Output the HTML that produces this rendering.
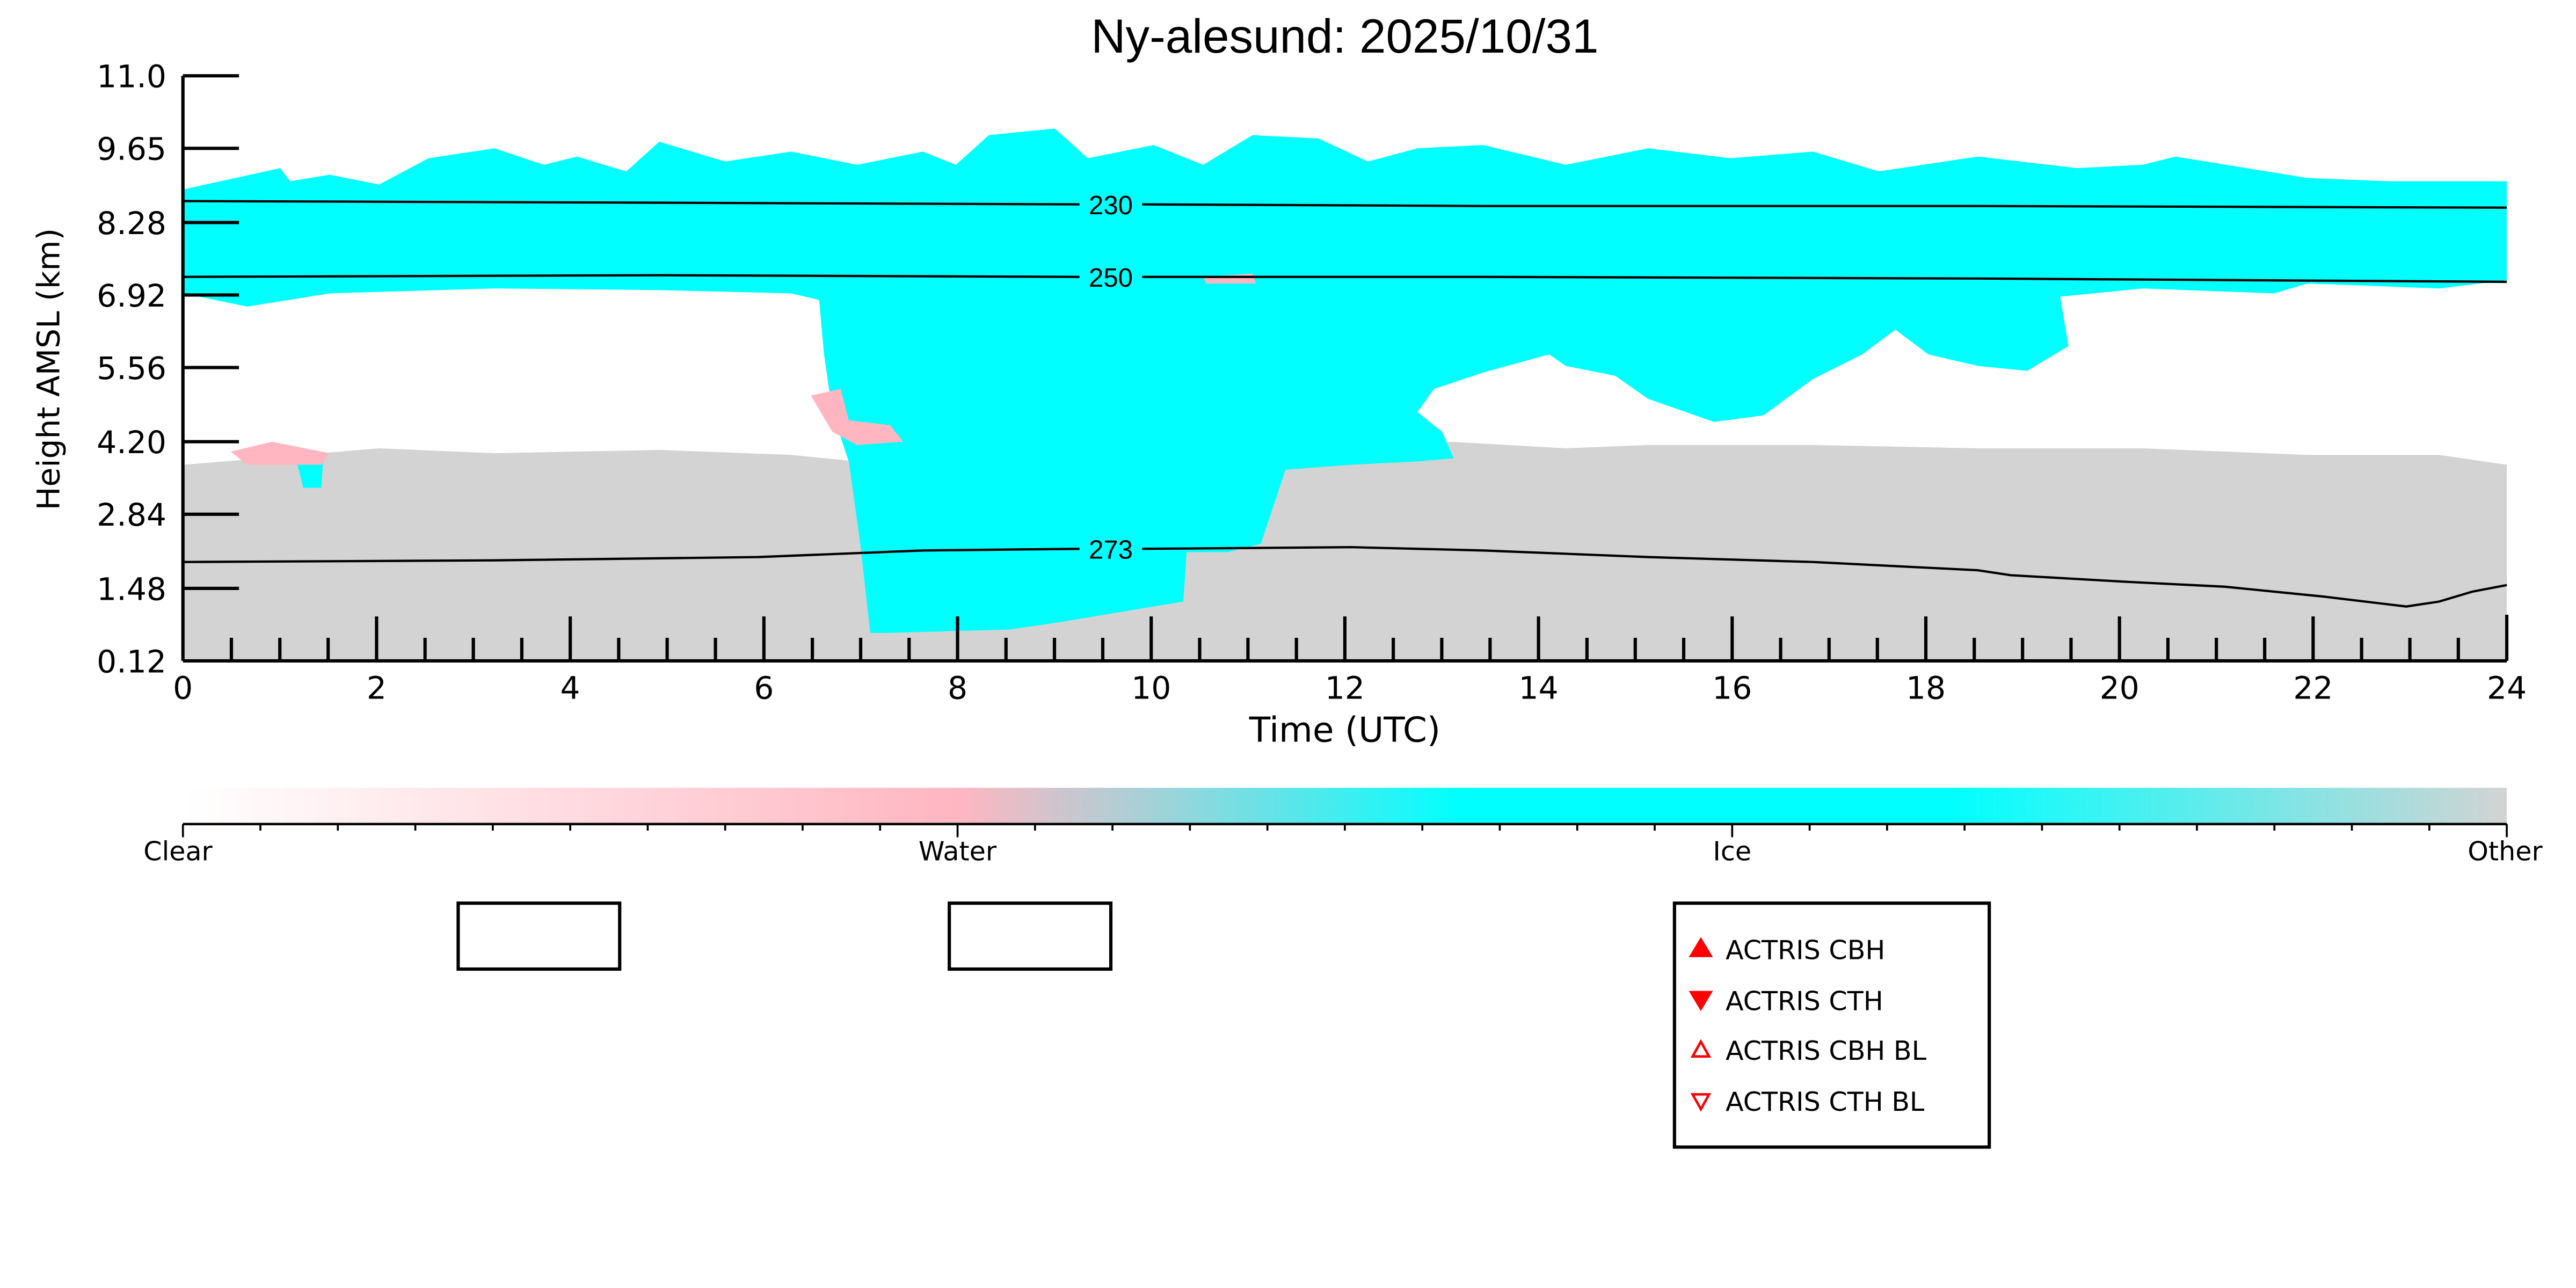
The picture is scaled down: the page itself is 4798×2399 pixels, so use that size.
<!DOCTYPE html>
<html><head><meta charset="utf-8"><style>html,body{margin:0;padding:0;background:#fff}svg{display:block}</style></head>
<body>
<svg width="4798" height="2399" viewBox="0 0 1563 781.5" preserveAspectRatio="none" xmlns="http://www.w3.org/2000/svg" font-family="DejaVu Sans, sans-serif">
<defs>
<linearGradient id="cb" x1="0" x2="1" y1="0" y2="0">
<stop offset="0" stop-color="#ffffff"/>
<stop offset="0.333" stop-color="#ffb6c1"/>
<stop offset="0.42" stop-color="#9fd3d8"/>
<stop offset="0.55" stop-color="#00ffff"/>
<stop offset="0.76" stop-color="#00ffff"/>
<stop offset="1" stop-color="#d3d3d3"/>
</linearGradient>
</defs>
<text x="816" y="32" font-size="29" text-anchor="middle" font-family="Liberation Sans, sans-serif">Ny-alesund: 2025/10/31</text>
<polygon fill="#d3d3d3" points="111,282 160,278 230,272 300,275 400,273 480,276 520,280 560,270 700,272 800,278 880,268 950,272 1000,270 1100,270 1200,272 1300,272 1400,276 1480,276 1521,282 1521,401 111,401"/>
<polygon fill="#00ffff" points="111,115 170,102 176,110 200,106 230,112 260,96 300,90 330,100 350,95 380,104 400,86 440,98 480,92 520,100 560,92 580,100 600,82 640,78 660,96 700,88 730,100 760,82 800,84 830,98 860,90 900,88 950,100 1000,90 1050,96 1100,92 1140,104 1200,95 1260,102 1300,100 1320,95 1400,108 1450,110 1521,110 1521,170 1480,175 1400,172 1380,178 1300,175 1250,180 1255,210 1230,225 1200,222 1170,215 1150,200 1130,215 1100,230 1070,252 1040,256 1000,242 980,228 950,222 940,215 900,226 870,236 860,250 875,262 882,278 860,280 820,282 780,285 765,330 745,335 720,335 718,365 640,378 612,382 540,384 528,384 522,330 515,280 505,250 500,215 497,182 480,178 400,176 300,175 200,178 150,186 111,178"/>
<polygon fill="#00ffff" points="180,280 196,280 195,296 184,296"/>
<polygon fill="#ffb6c1" points="140,274 165,268 200,275 195,282 150,282"/>
<polygon fill="#ffb6c1" points="492,240 510,236 515,255 540,258 548,268 520,270 505,262"/>
<polygon fill="#ffb6c1" points="730,168 760,166 762,172 732,172"/>
<g fill="none" stroke="#000" stroke-width="1.4">
<polyline points="111,122 400,123 655,124"/>
<polyline points="693,124 900,125 1200,125 1521,126"/>
<polyline points="111,168 400,167 655,168"/>
<polyline points="693,168 900,168 1200,169 1521,171"/>
<polyline points="111,341 300,340 460,338 560,334 655,333"/>
<polyline points="693,333 820,332 900,334 1000,338 1100,341 1200,346 1220,349 1290,353 1350,356 1410,362 1460,368 1480,365 1500,359 1521,355"/>
</g>
<g font-size="16" text-anchor="middle" font-family="Liberation Sans, sans-serif"><text x="674" y="130">230</text><text x="674" y="174">250</text><text x="674" y="339">273</text></g>
<g stroke="#000" stroke-width="2" fill="none">
<line x1="111" y1="46" x2="111" y2="401"/>
<line x1="111" y1="401" x2="1521" y2="401"/>
<line x1="1521" y1="373" x2="1521" y2="401"/>
<line x1="111" y1="46" x2="145" y2="46"/><line x1="111" y1="90" x2="145" y2="90"/><line x1="111" y1="135" x2="145" y2="135"/><line x1="111" y1="179" x2="145" y2="179"/><line x1="111" y1="223" x2="145" y2="223"/><line x1="111" y1="268" x2="145" y2="268"/><line x1="111" y1="312" x2="145" y2="312"/><line x1="111" y1="357" x2="145" y2="357"/>
<path d="M140.4 401V387M169.8 401V387M199.1 401V387M228.5 401V374M257.9 401V387M287.2 401V387M316.6 401V387M346 401V374M375.4 401V387M404.8 401V387M434.1 401V387M463.5 401V374M492.9 401V387M522.2 401V387M551.6 401V387M581 401V374M610.4 401V387M639.8 401V387M669.1 401V387M698.5 401V374M727.9 401V387M757.2 401V387M786.6 401V387M816 401V374M845.4 401V387M874.8 401V387M904.1 401V387M933.5 401V374M962.9 401V387M992.2 401V387M1021.6 401V387M1051 401V374M1080.4 401V387M1109.8 401V387M1139.1 401V387M1168.5 401V374M1197.9 401V387M1227.2 401V387M1256.6 401V387M1286 401V374M1315.4 401V387M1344.8 401V387M1374.1 401V387M1403.5 401V374M1432.9 401V387M1462.2 401V387M1491.6 401V387"/>
</g>
<g font-size="19" text-anchor="end">
<text x="101" y="53">11.0</text><text x="101" y="97">9.65</text><text x="101" y="142">8.28</text><text x="101" y="186">6.92</text><text x="101" y="230">5.56</text><text x="101" y="275">4.20</text><text x="101" y="319">2.84</text><text x="101" y="364">1.48</text><text x="101" y="408">0.12</text>
</g>
<g font-size="19" text-anchor="middle">
<text x="111" y="424">0</text><text x="228.5" y="424">2</text><text x="346" y="424">4</text><text x="463.5" y="424">6</text><text x="581" y="424">8</text><text x="698.5" y="424">10</text><text x="816" y="424">12</text><text x="933.5" y="424">14</text><text x="1051" y="424">16</text><text x="1168.5" y="424">18</text><text x="1286" y="424">20</text><text x="1403.5" y="424">22</text><text x="1521" y="424">24</text>
<text x="816" y="450" font-size="21">Time (UTC)</text>
</g>
<text transform="translate(36,224) rotate(-90)" font-size="19" text-anchor="middle">Height AMSL (km)</text>
<rect x="111" y="478" width="1410" height="22" fill="url(#cb)"/>
<line x1="111" y1="500" x2="1521" y2="500" stroke="#000" stroke-width="1.5"/>
<g stroke="#000" stroke-width="1.2">
<path d="M111 500V508M158 500V504M205 500V504M252 500V504M299 500V504M346 500V504M393 500V504M440 500V504M487 500V504M534 500V504M581 500V508M628 500V504M675 500V504M722 500V504M769 500V504M816 500V504M863 500V504M910 500V504M957 500V504M1004 500V504M1051 500V508M1098 500V504M1145 500V504M1192 500V504M1239 500V504M1286 500V504M1333 500V504M1380 500V504M1427 500V504M1474 500V504M1521 500V508"/>
</g>
<g font-size="16" text-anchor="middle"><text x="108" y="522">Clear</text><text x="581" y="522">Water</text><text x="1051" y="522">Ice</text><text x="1520" y="522">Other</text></g>
<g fill="none" stroke="#000" stroke-width="2">
<rect x="278" y="548" width="98" height="40"/>
<rect x="576" y="548" width="98" height="40"/>
<rect x="1016" y="548" width="191" height="148"/>
</g>
<g fill="red" stroke="red" stroke-width="1.5">
<polygon points="1032,570 1038,580 1026,580"/>
<polygon points="1026,602 1038,602 1032,612"/>
<polygon points="1032,632 1037,641 1027,641" fill="none"/>
<polygon points="1027,664 1037,664 1032,673" fill="none"/>
</g>
<g font-size="16"><text x="1047" y="582">ACTRIS CBH</text><text x="1047" y="613">ACTRIS CTH</text><text x="1047" y="643">ACTRIS CBH BL</text><text x="1047" y="674">ACTRIS CTH BL</text></g>
</svg>
</body></html>
